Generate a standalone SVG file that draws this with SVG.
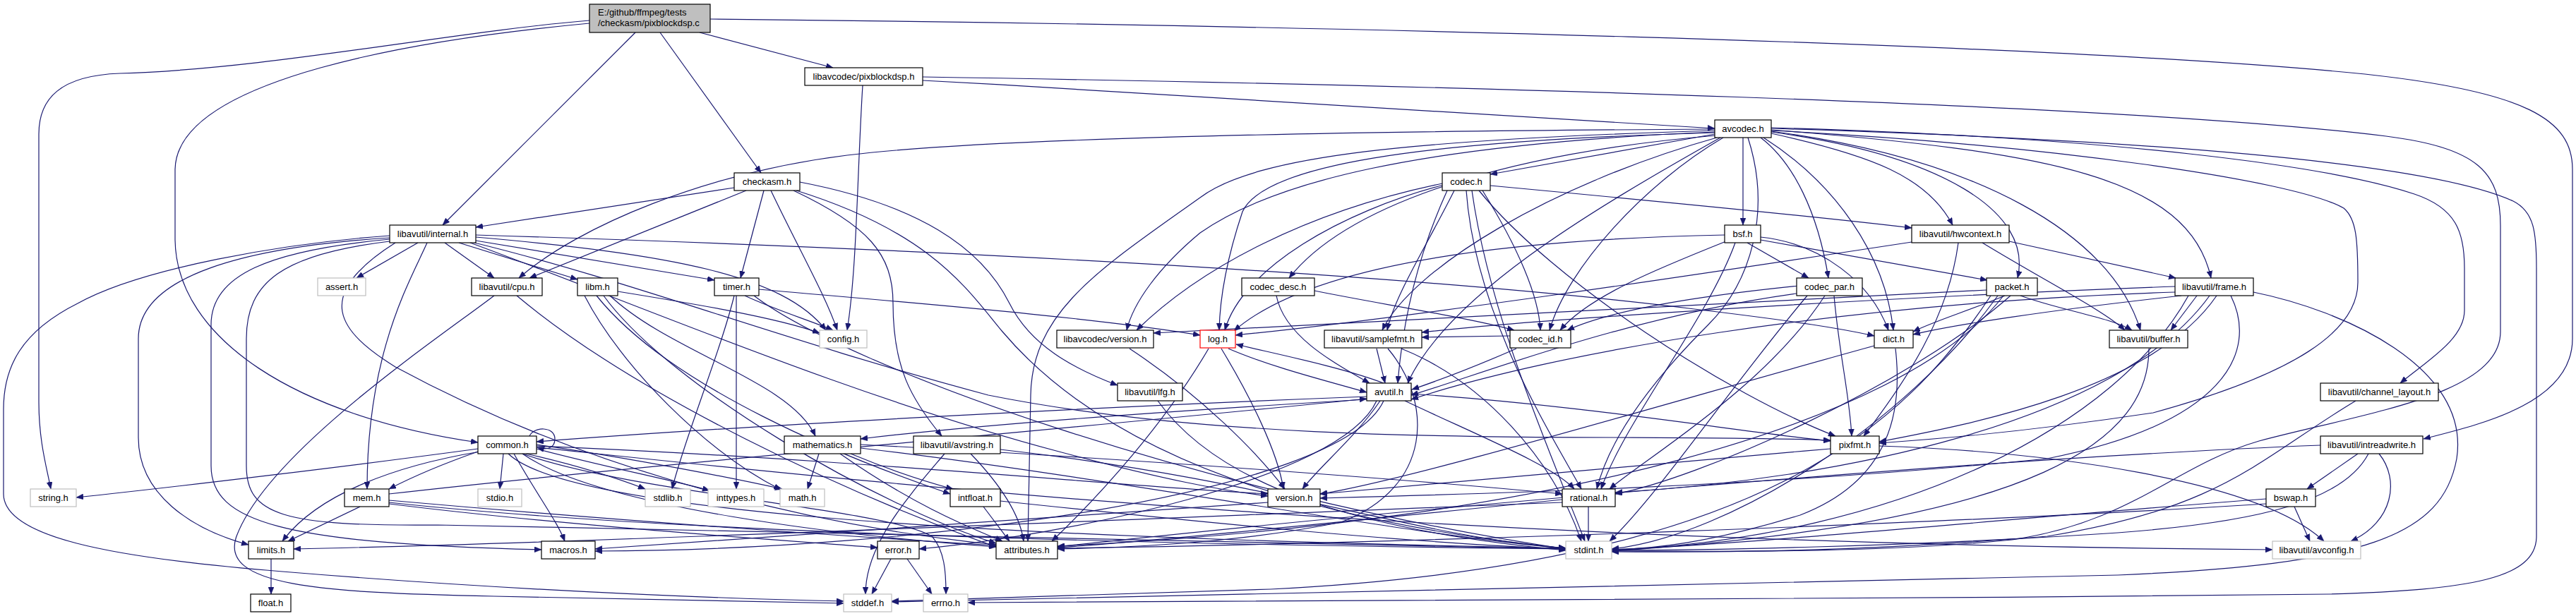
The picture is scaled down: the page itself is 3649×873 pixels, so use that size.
<svg xmlns="http://www.w3.org/2000/svg" width="3649" height="873" viewBox="0 0 3649 873">
<style>
.n rect{fill:#fff;stroke:#000;stroke-width:1.2}
.g rect{fill:#fff;stroke:#bfbfbf;stroke-width:1.2}
.r rect{fill:#fff;stroke:#ff0000;stroke-width:1.2}
text{font-family:"Liberation Sans",Arial,sans-serif;font-size:13px;fill:#000;text-anchor:middle}
#edges path{fill:none;stroke:#191970;stroke-width:1.2;marker-end:url(#ah)}
</style>
<defs>
<marker id="ah" viewBox="0 0 10 8" refX="10" refY="4" markerWidth="10" markerHeight="8" markerUnits="userSpaceOnUse" orient="auto"><path d="M0,0L10,4L0,8Z" fill="#191970" stroke="#191970" stroke-width="0.5"/></marker>
</defs>
<rect x="0" y="0" width="3649" height="873" fill="#fff"/>
<g id="edges">
<path d="M835,29 C640,45 380,98 170,104 C85,107 55,140 55,190 L55,570 C55,625 66,662 72,693"/>
<path d="M835,33 C600,55 250,110 248,240 L248,340 C250,480 420,590 677,627"/>
<path d="M900,46 L627,319"/>
<path d="M935,46 L1078,245"/>
<path d="M991,46 L1180,96"/>
<path d="M1006,27 C1800,35 2900,60 3350,105 C3580,130 3644,170 3644,240 L3644,480 C3644,570 3520,600 3433,622"/>
<path d="M1222,121 C1214,250 1214,380 1200,468"/>
<path d="M1307,114 C1700,135 2100,160 2429,182"/>
<path d="M1307,109 C2000,120 3000,146 3380,193 C3512,210 3542,245 3542,320 L3542,470 C3542,560 3350,585 3200,625 C3080,660 3020,740 2850,765 C2650,785 2400,781 2283,781"/>
<path d="M1040,266 L674,322"/>
<path d="M1057,270 L750,394"/>
<path d="M1082,270 L1049,394"/>
<path d="M1092,270 C1130,350 1170,420 1186,468"/>
<path d="M1124,270 C1230,320 1265,360 1265,430 C1265,520 1290,565 1334,618"/>
<path d="M1133,258 C1300,290 1390,350 1430,430 C1460,490 1520,522 1583,546"/>
<path d="M1128,270 C1320,330 1370,410 1420,470 C1530,600 1750,730 2218,777"/>
<path d="M2429,183 C1900,186 1400,195 1200,220 C1000,245 820,320 735,394"/>
<path d="M2429,190 L2111,247"/>
<path d="M2431,192 C2100,220 1900,300 1826,394"/>
<path d="M2429,185 C2000,198 1780,220 1700,280 C1560,380 1462,440 1460,560 L1456,767"/>
<path d="M2429,187 C2000,205 1800,260 1700,330 C1640,380 1605,430 1596,468"/>
<path d="M2429,188 C2000,200 1790,235 1760,300 C1740,360 1728,420 1727,468"/>
<path d="M2432,195 C2200,260 2000,380 1958,468"/>
<path d="M2437,195 C2250,300 2050,420 1994,543"/>
<path d="M2441,195 C2330,260 2220,380 2195,468"/>
<path d="M2476,195 C2510,300 2480,400 2420,460 C2340,540 2280,620 2262,693"/>
<path d="M2469,195 L2469,319"/>
<path d="M2509,185 C2900,205 3250,255 3320,295 C3338,310 3340,340 3340,400 C3340,470 3250,530 3050,585 C2850,615 2720,624 2662,628"/>
<path d="M2494,195 C2540,230 2575,300 2590,394"/>
<path d="M2498,195 C2600,260 2670,360 2682,468"/>
<path d="M2509,189 C2650,220 2730,250 2766,319"/>
<path d="M2509,187 C2750,220 2880,300 2858,394"/>
<path d="M2509,184 C2900,215 3100,250 3132,394"/>
<path d="M2509,186 C2800,225 2990,330 3032,468"/>
<path d="M2509,181 C3000,195 3300,235 3420,275 C3480,295 3491,330 3491,380 L3491,440 C3491,480 3440,510 3400,543"/>
<path d="M2509,182 C3100,200 3450,235 3560,285 C3590,300 3593,330 3593,380 L3593,760 C3593,820 3500,836 3300,842 C2600,850 1800,853 1371,854"/>
<path d="M700,419 C620,480 380,640 335,760 C310,830 450,840 700,845 C900,850 1100,853 1195,855"/>
<path d="M732,419 C900,560 1200,700 1411,775"/>
<path d="M592,344 L505,394"/>
<path d="M552,334 C400,345 200,380 110,430 C30,470 5,520 5,580 L5,700 C5,760 150,790 400,810 C700,835 1000,848 1195,852"/>
<path d="M552,337 C350,350 196,390 196,480 L196,620 C196,700 270,750 352,772"/>
<path d="M552,339 C380,355 299,390 299,460 L299,660 C299,740 400,770 767,779"/>
<path d="M552,342 C400,360 349,400 349,480 L349,660 C349,730 400,746 620,744 C1200,755 1800,772 2218,778"/>
<path d="M560,344 C440,420 480,470 560,520 C800,650 1100,740 1411,772"/>
<path d="M674,336 C950,360 1110,390 1170,468"/>
<path d="M674,341 L1012,397"/>
<path d="M650,344 L818,396"/>
<path d="M630,344 L700,394"/>
<path d="M674,333 C1300,352 2000,388 2400,438 C2550,456 2610,466 2655,476"/>
<path d="M672,344 C900,400 1100,480 1400,560 C1800,640 2300,612 2593,624"/>
<path d="M666,344 C900,430 1200,560 1500,640 C1650,680 1730,695 1796,703"/>
<path d="M605,344 C580,400 520,500 520,693"/>
<path d="M828,419 C880,520 1000,640 1106,694"/>
<path d="M875,413 C980,430 1100,450 1161,472"/>
<path d="M855,419 C950,550 1250,720 1411,770"/>
<path d="M845,419 C950,550 1200,650 1346,700"/>
<path d="M864,419 C950,500 1120,540 1155,618"/>
<path d="M1040,419 C1020,500 970,620 952,693"/>
<path d="M1043,419 L1043,693"/>
<path d="M1055,419 C1100,440 1150,455 1180,468"/>
<path d="M1068,419 C1200,520 1700,700 2218,778"/>
<path d="M1075,410 C1300,430 1550,450 1700,475"/>
<path d="M1808,419 C1820,480 1900,520 1940,543"/>
<path d="M1862,412 C1950,430 2080,450 2145,468"/>
<path d="M2085,270 C2110,450 2200,650 2245,767"/>
<path d="M2050,270 C2000,380 1985,480 1980,543"/>
<path d="M2111,263 C2400,290 2600,310 2708,323"/>
<path d="M2045,262 C1900,300 1760,380 1735,468"/>
<path d="M2095,270 C2200,400 2450,560 2600,618"/>
<path d="M2077,270 C2090,450 2200,620 2240,693"/>
<path d="M2060,270 C2020,350 1975,420 1965,468"/>
<path d="M2100,270 C2150,350 2180,420 2182,468"/>
<path d="M2043,260 C1850,300 1700,380 1610,468"/>
<path d="M2494,336 C2580,345 2650,400 2675,468"/>
<path d="M2443,333 C2100,340 1850,380 1748,469"/>
<path d="M2458,344 C2420,450 2300,600 2268,693"/>
<path d="M2445,342 C2350,380 2250,420 2210,468"/>
<path d="M2475,344 L2562,394"/>
<path d="M2494,340 L2815,397"/>
<path d="M2808,344 C2900,400 2980,440 3010,468"/>
<path d="M2846,342 L3082,394"/>
<path d="M2708,343 C2400,390 2000,450 1750,475"/>
<path d="M2774,344 C2760,450 2700,540 2640,618"/>
<path d="M2545,416 C2300,450 2100,530 1999,560"/>
<path d="M2560,419 C2450,550 2350,700 2280,767"/>
<path d="M2585,419 C2500,550 2330,650 2280,693"/>
<path d="M2598,419 C2605,500 2620,560 2623,618"/>
<path d="M2548,405 C2400,420 2280,440 2220,468"/>
<path d="M2820,419 C2700,600 2500,800 1800,835 C1500,845 1300,850 1263,852"/>
<path d="M2830,419 C2700,600 2450,760 2283,778"/>
<path d="M2838,419 C2700,600 2200,740 1498,774"/>
<path d="M2862,419 C2920,440 2990,450 3020,468"/>
<path d="M2840,419 C2790,440 2740,455 2710,470"/>
<path d="M2848,419 C2700,550 2400,680 2288,700"/>
<path d="M2814,411 C2400,430 2000,455 1634,472"/>
<path d="M3192,414 C3320,440 3500,520 3480,650 C3460,760 3350,800 3000,815 C2300,835 1700,848 1263,853"/>
<path d="M3100,419 C3000,600 2700,760 2283,780"/>
<path d="M3081,414 C2600,430 2200,500 1999,566"/>
<path d="M3112,419 L3075,468"/>
<path d="M3090,419 C2900,440 2770,460 2710,474"/>
<path d="M3130,419 C3000,600 2600,680 2288,698"/>
<path d="M3081,406 C2700,420 2200,450 2014,471"/>
<path d="M3140,419 C3050,550 2800,600 2662,626"/>
<path d="M3160,419 C3200,500 3150,600 2900,650 C2500,690 2100,700 1870,706"/>
<path d="M1600,494 C1700,560 1780,640 1820,693"/>
<path d="M1740,494 C1800,520 1880,540 1936,556"/>
<path d="M1712,494 C1650,600 1560,700 1490,767"/>
<path d="M1730,494 C1770,560 1810,640 1818,693"/>
<path d="M1950,494 L1962,543"/>
<path d="M1966,494 C2030,570 2030,690 1900,740 C1750,770 1600,776 1498,778"/>
<path d="M1985,494 C2100,540 2200,650 2240,767"/>
<path d="M2148,494 C2100,515 2050,535 2000,552"/>
<path d="M2139,476 L2014,478"/>
<path d="M2685,494 C2695,580 2680,680 2550,730 C2420,770 2340,778 2283,779"/>
<path d="M2655,490 C2400,560 2000,680 1870,700"/>
<path d="M3044,494 C3044,620 2900,740 2283,781"/>
<path d="M1640,568 C1720,680 1900,750 2218,780"/>
<path d="M1936,562 C1600,575 1100,600 760,626"/>
<path d="M1950,568 C1900,680 1500,760 1302,778"/>
<path d="M1990,568 C2100,620 2200,660 2230,693"/>
<path d="M1955,568 C1920,620 1870,660 1845,693"/>
<path d="M1960,568 C1900,700 1300,780 843,781"/>
<path d="M1936,566 C1700,580 1400,600 1219,622"/>
<path d="M1960,543 C1900,520 1800,500 1751,488"/>
<path d="M1999,558 C2250,575 2450,610 2593,625"/>
<path d="M3337,568 C3200,650 3150,720 2900,760 C2600,785 2400,782 2283,782"/>
<path d="M750,618 C756,604 786,604 786,622 C786,636 774,638 761,634"/>
<path d="M740,643 C900,700 1250,720 1320,760 C1338,780 1340,810 1340,842"/>
<path d="M760,636 C850,660 950,680 1005,695"/>
<path d="M680,640 C560,660 450,700 400,767"/>
<path d="M760,630 C900,650 1050,680 1108,693"/>
<path d="M720,643 C800,720 1300,760 2218,777"/>
<path d="M713,643 L708,693"/>
<path d="M745,643 C820,660 880,680 914,693"/>
<path d="M677,636 C500,660 250,690 108,705"/>
<path d="M740,643 C850,720 1200,760 1411,775"/>
<path d="M728,643 C760,700 790,740 800,767"/>
<path d="M760,632 C1200,650 1600,690 1796,700"/>
<path d="M760,634 C1200,680 2000,770 3219,779"/>
<path d="M677,640 C620,660 580,678 551,693"/>
<path d="M1219,635 C1600,680 2000,760 2218,777"/>
<path d="M1160,643 L1144,693"/>
<path d="M1190,643 C1300,720 1380,750 1420,767"/>
<path d="M1219,630 C1600,650 2000,680 2213,700"/>
<path d="M1205,643 C1270,670 1320,685 1350,693"/>
<path d="M1338,643 C1290,700 1226,770 1226,842"/>
<path d="M1417,637 C1800,680 2000,760 2218,777"/>
<path d="M1375,643 C1420,690 1445,730 1450,767"/>
<path d="M2662,632 C2900,640 3200,680 3292,767"/>
<path d="M2593,636 C2300,660 2000,690 1870,700"/>
<path d="M3355,643 C3320,710 3200,740 3000,755 C2700,775 2400,780 2283,780"/>
<path d="M3370,643 C3400,680 3390,740 3330,767"/>
<path d="M3287,631 C2800,650 2000,720 1498,775"/>
<path d="M3340,643 L3268,693"/>
<path d="M510,718 L408,767"/>
<path d="M551,712 C900,750 1500,770 2218,778"/>
<path d="M551,709 C900,740 1200,760 1411,773"/>
<path d="M551,714 C800,745 1100,765 1243,776"/>
<path d="M551,700 C900,660 1600,600 1936,565"/>
<path d="M1417,710 C1700,740 2000,770 2218,778"/>
<path d="M1393,718 L1430,767"/>
<path d="M1796,712 C1400,740 1000,770 843,778"/>
<path d="M2250,718 L2250,767"/>
<path d="M2213,712 C1500,740 800,770 416,778"/>
<path d="M2213,708 C1900,740 1600,770 1498,776"/>
<path d="M3210,707 C2900,730 2500,770 2283,779"/>
<path d="M3250,718 L3272,767"/>
<path d="M3210,714 C2800,740 2000,770 1498,777"/>
<path d="M384,792 L384,842"/>
<path d="M1262,792 L1235,842"/>
<path d="M1285,792 L1320,842"/>
</g>
<g id="root"><rect x="835" y="6" width="171" height="40" fill="#bfbfbf" stroke="#000" stroke-width="1.2"/><text x="847" y="21.5" style="text-anchor:start">E:/github/ffmpeg/tests</text><text x="847" y="36.5" style="text-anchor:start">/checkasm/pixblockdsp.c</text></g>
<g id="pixblockdsp" class="n"><rect x="1140" y="96" width="167" height="25"/><text x="1223.5" y="113">libavcodec/pixblockdsp.h</text></g>
<g id="avcodec" class="n"><rect x="2429" y="170" width="80" height="25"/><text x="2469" y="187">avcodec.h</text></g>
<g id="checkasm" class="n"><rect x="1040" y="245" width="93" height="25"/><text x="1086.5" y="262">checkasm.h</text></g>
<g id="codec" class="n"><rect x="2043" y="245" width="68" height="25"/><text x="2077" y="262">codec.h</text></g>
<g id="internal" class="n"><rect x="552" y="319" width="122" height="25"/><text x="613" y="336">libavutil/internal.h</text></g>
<g id="bsf" class="n"><rect x="2443" y="319" width="51" height="25"/><text x="2468.5" y="336">bsf.h</text></g>
<g id="hwcontext" class="n"><rect x="2708" y="319" width="138" height="25"/><text x="2777" y="336">libavutil/hwcontext.h</text></g>
<g id="assert" class="g"><rect x="450" y="394" width="68" height="25"/><text x="484" y="411">assert.h</text></g>
<g id="cpu" class="n"><rect x="668" y="394" width="100" height="25"/><text x="718" y="411">libavutil/cpu.h</text></g>
<g id="libm" class="n"><rect x="818" y="394" width="57" height="25"/><text x="846.5" y="411">libm.h</text></g>
<g id="timer" class="n"><rect x="1012" y="394" width="63" height="25"/><text x="1043.5" y="411">timer.h</text></g>
<g id="codec_desc" class="n"><rect x="1759" y="394" width="103" height="25"/><text x="1810.5" y="411">codec_desc.h</text></g>
<g id="codec_par" class="n"><rect x="2545" y="394" width="93" height="25"/><text x="2591.5" y="411">codec_par.h</text></g>
<g id="packet" class="n"><rect x="2814" y="394" width="72" height="25"/><text x="2850" y="411">packet.h</text></g>
<g id="frame" class="n"><rect x="3081" y="394" width="111" height="25"/><text x="3136.5" y="411">libavutil/frame.h</text></g>
<g id="config" class="g"><rect x="1161" y="468" width="67" height="25"/><text x="1194.5" y="485">config.h</text></g>
<g id="lavc_version" class="n"><rect x="1497" y="468" width="137" height="25"/><text x="1565.5" y="485">libavcodec/version.h</text></g>
<g id="log" class="r"><rect x="1700" y="468" width="50" height="25"/><text x="1725" y="485">log.h</text></g>
<g id="samplefmt" class="n"><rect x="1876" y="468" width="138" height="25"/><text x="1945" y="485">libavutil/samplefmt.h</text></g>
<g id="codec_id" class="n"><rect x="2139" y="468" width="86" height="25"/><text x="2182" y="485">codec_id.h</text></g>
<g id="dict" class="n"><rect x="2655" y="468" width="55" height="25"/><text x="2682.5" y="485">dict.h</text></g>
<g id="buffer" class="n"><rect x="2988" y="468" width="111" height="25"/><text x="3043.5" y="485">libavutil/buffer.h</text></g>
<g id="lfg" class="n"><rect x="1583" y="543" width="92" height="25"/><text x="1629" y="560">libavutil/lfg.h</text></g>
<g id="avutil" class="n"><rect x="1936" y="543" width="63" height="25"/><text x="1967.5" y="560">avutil.h</text></g>
<g id="channel_layout" class="n"><rect x="3287" y="543" width="167" height="25"/><text x="3370.5" y="560">libavutil/channel_layout.h</text></g>
<g id="common" class="n"><rect x="677" y="618" width="83" height="25"/><text x="718.5" y="635">common.h</text></g>
<g id="mathematics" class="n"><rect x="1111" y="618" width="108" height="25"/><text x="1165" y="635">mathematics.h</text></g>
<g id="avstring" class="n"><rect x="1294" y="618" width="123" height="25"/><text x="1355.5" y="635">libavutil/avstring.h</text></g>
<g id="pixfmt" class="n"><rect x="2593" y="618" width="69" height="25"/><text x="2627.5" y="635">pixfmt.h</text></g>
<g id="intreadwrite" class="n"><rect x="3287" y="618" width="145" height="25"/><text x="3359.5" y="635">libavutil/intreadwrite.h</text></g>
<g id="string" class="g"><rect x="43" y="693" width="65" height="25"/><text x="75.5" y="710">string.h</text></g>
<g id="mem" class="n"><rect x="488" y="693" width="63" height="25"/><text x="519.5" y="710">mem.h</text></g>
<g id="stdio" class="g"><rect x="677" y="693" width="62" height="25"/><text x="708" y="710">stdio.h</text></g>
<g id="stdlib" class="g"><rect x="914" y="693" width="64" height="25"/><text x="946" y="710">stdlib.h</text></g>
<g id="inttypes" class="g"><rect x="1003" y="693" width="79" height="25"/><text x="1042.5" y="710">inttypes.h</text></g>
<g id="math" class="g"><rect x="1105" y="693" width="63" height="25"/><text x="1136.5" y="710">math.h</text></g>
<g id="intfloat" class="n"><rect x="1346" y="693" width="71" height="25"/><text x="1381.5" y="710">intfloat.h</text></g>
<g id="version" class="n"><rect x="1796" y="693" width="74" height="25"/><text x="1833" y="710">version.h</text></g>
<g id="rational" class="n"><rect x="2213" y="693" width="75" height="25"/><text x="2250.5" y="710">rational.h</text></g>
<g id="bswap" class="n"><rect x="3210" y="693" width="70" height="25"/><text x="3245" y="710">bswap.h</text></g>
<g id="limits" class="n"><rect x="352" y="767" width="64" height="25"/><text x="384" y="784">limits.h</text></g>
<g id="macros" class="n"><rect x="767" y="767" width="76" height="25"/><text x="805" y="784">macros.h</text></g>
<g id="error" class="n"><rect x="1243" y="767" width="59" height="25"/><text x="1272.5" y="784">error.h</text></g>
<g id="attributes" class="n"><rect x="1411" y="767" width="87" height="25"/><text x="1454.5" y="784">attributes.h</text></g>
<g id="stdint" class="g"><rect x="2218" y="767" width="65" height="25"/><text x="2250.5" y="784">stdint.h</text></g>
<g id="avconfig" class="g"><rect x="3219" y="767" width="125" height="25"/><text x="3281.5" y="784">libavutil/avconfig.h</text></g>
<g id="float" class="n"><rect x="355" y="842" width="57" height="25"/><text x="383.5" y="859">float.h</text></g>
<g id="stddef" class="g"><rect x="1195" y="842" width="68" height="25"/><text x="1229" y="859">stddef.h</text></g>
<g id="errno" class="g"><rect x="1308" y="842" width="63" height="25"/><text x="1339.5" y="859">errno.h</text></g>
</svg>
